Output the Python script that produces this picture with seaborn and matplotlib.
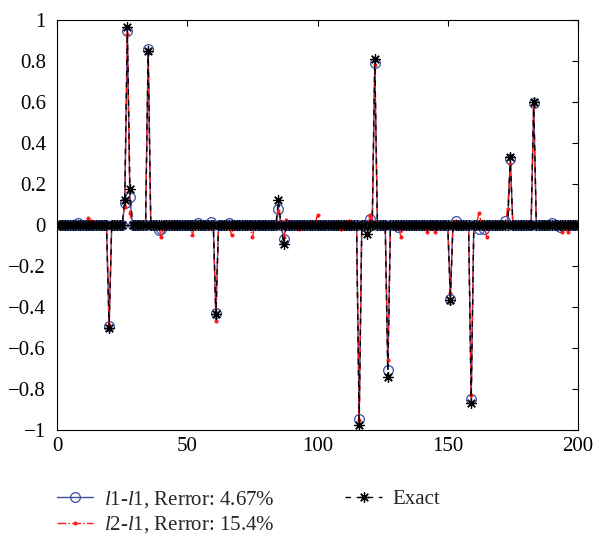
import numpy as np
import pandas as pd
import matplotlib
matplotlib.use("Agg")
import matplotlib.pyplot as plt
import seaborn as sns

# ---- data -------------------------------------------------------------
n_points = 200
x_index = list(range(1, n_points + 1))

exact_idx = [20, 26, 27, 28, 35, 61, 85, 87, 116, 119, 122, 127, 151, 159, 174, 183]
exact_val = [-0.50, 0.12, 0.965, 0.175, 0.85, -0.435, 0.12, -0.095, -0.975, -0.045,
             0.81, -0.74, -0.365, -0.87, 0.33, 0.60]

l1_idx = [8, 20, 26, 27, 28, 35, 39, 40, 54, 59, 61, 66, 85, 87, 116, 120, 122, 127,
          131, 151, 153, 159, 162, 164, 172, 174, 183, 190, 193]
l1_val = [0.01, -0.495, 0.105, 0.945, 0.135, 0.86, -0.025, -0.02, 0.01, 0.015, -0.43,
          0.01, 0.08, -0.07, -0.945, 0.03, 0.79, -0.705, -0.01, -0.36, 0.02, -0.85,
          -0.02, -0.02, 0.02, 0.32, 0.595, 0.01, -0.01]

l2_idx = [12, 13, 20, 26, 27, 28, 35, 40, 52, 61, 67, 75, 85, 87, 88, 93, 100, 109,
          112, 116, 120, 122, 127, 132, 142, 145, 151, 153, 159, 162, 165, 173, 174,
          183, 194, 196]
l2_val = [0.033, 0.02, -0.49, 0.09, 0.93, 0.06, 0.84, -0.06, -0.05, -0.47, -0.05,
          -0.06, 0.07, -0.06, 0.025, -0.02, 0.05, -0.02, 0.02, -0.95, 0.05, 0.78,
          -0.66, -0.06, -0.035, -0.035, -0.33, 0.02, -0.83, 0.06, -0.06, 0.08, 0.30,
          0.58, -0.035, -0.035]

label_l1 = "$l$1-$l$1, Rerror: 4.67%"
label_l2 = "$l$2-$l$1, Rerror: 15.4%"
label_exact = "Exact"

x_ticks = [0, 50, 100, 150, 200]
y_ticks = [-1, -0.8, -0.6, -0.4, -0.2, 0, 0.2, 0.4, 0.6, 0.8, 1]
y_tick_labels = ["\u22121", "\u22120.8", "\u22120.6", "\u22120.4", "\u22120.2", "0",
                 "0.2", "0.4", "0.6", "0.8", "1"]


def build(idx, val):
    y = np.zeros(n_points)
    for i, v in zip(idx, val):
        y[i - 1] = v
    return y


df = pd.DataFrame({
    "x": x_index,
    "exact": build(exact_idx, exact_val),
    "l1": build(l1_idx, l1_val),
    "l2": build(l2_idx, l2_val),
})

# ---- style ------------------------------------------------------------
sns.set_theme(style="white")
plt.rcParams["font.family"] = ["Liberation Serif", "DejaVu Serif"]
plt.rcParams["mathtext.fontset"] = "custom"
plt.rcParams["mathtext.it"] = "Liberation Serif:italic"
plt.rcParams["mathtext.rm"] = "Liberation Serif"

fig = plt.figure(figsize=(6.01, 5.37), dpi=100)
ax = fig.add_axes([57 / 601, 1 - 430 / 537, (578 - 57) / 601, (430 - 20) / 537])

blue = "#3a4fa8"
red = "#ff1a1a"

sns.lineplot(data=df, x="x", y="l1", ax=ax, color=blue, linewidth=1.0,
             marker="o", markersize=7, markerfacecolor="none",
             markeredgecolor=blue, markeredgewidth=0.9, label=label_l1,
             estimator=None, sort=False)
sns.lineplot(data=df, x="x", y="l2", ax=ax, color=red, linewidth=1.0,
             linestyle="-.", marker="o", markersize=2.2, markerfacecolor=red,
             markeredgecolor=red, label=label_l2, estimator=None, sort=False)
sns.lineplot(data=df, x="x", y="exact", ax=ax, color="black", linewidth=1.0,
             linestyle=(0, (4, 4)), marker=(8, 2, 0), markersize=7.5,
             markeredgecolor="black", markeredgewidth=0.9, label=label_exact,
             estimator=None, sort=False)

ax.set_xlim(0, 200)
ax.set_ylim(-1, 1)
ax.set_xticks(x_ticks)
ax.set_xticklabels([str(t) for t in x_ticks])
ax.set_yticks(y_ticks)
ax.set_yticklabels(y_tick_labels)
ax.set_xlabel("")
ax.set_ylabel("")
ax.tick_params(direction="in", length=4, width=0.8, top=True, right=True,
               labelsize=15, colors="black")
ax.tick_params(axis="y", pad=8)
ax.tick_params(axis="x", pad=5)
for s in ax.spines.values():
    s.set_visible(True)
    s.set_color("black")
    s.set_linewidth(0.8)

handles, labels = ax.get_legend_handles_labels()
ax.legend_.remove()
fig.legend(handles, labels, ncol=2, frameon=False, loc="upper left",
           bbox_to_anchor=(57 / 601, 1 - 489 / 537), fontsize=15,
           handlelength=1.75, handletextpad=0.5, columnspacing=3.4,
           labelspacing=0.22, borderaxespad=0, borderpad=0)

fig.savefig("out.png", dpi=100)
